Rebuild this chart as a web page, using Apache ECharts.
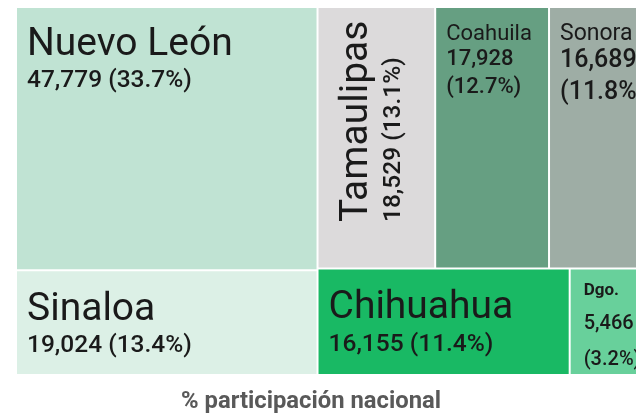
<!DOCTYPE html>
<html>
<head>
<meta charset="utf-8">
<script src="https://cdn.jsdelivr.net/npm/echarts@6/dist/echarts.min.js"></script>
<style>
  html, body { margin: 0; padding: 0; background: #fff; }
  #chart { width: 636px; height: 414px; }
</style>
</head>
<body>
<div id="chart"></div>
<script>
// datos
const estados = ["Nuevo León", "Sinaloa", "Tamaulipas", "Coahuila", "Sonora", "Chihuahua", "Dgo."];
const valores = [47779, 19024, 18529, 17928, 16689, 16155, 5466];
const porcentajes = ["33.7%", "13.4%", "13.1%", "12.7%", "11.8%", "11.4%", "3.2%"];

// colores de cada estado
const colores = ["#c0e3d3", "#dcf0e6", "#dcdadb", "#669f82", "#9eada5", "#19b964", "#68d09b"];

const fmt = v => v.toLocaleString("en-US");

// estilo de etiqueta segun el tamaño de la celda
const etiquetaGrande = (i, pos) => ({
  position: pos,
  formatter: `{n|${estados[i]}}\n{v|${fmt(valores[i])} (${porcentajes[i]})}`
});
const etiquetaChica = (i, pos, estilo) => ({
  position: pos,
  formatter: `{${estilo}n|${estados[i]}}\n{${estilo}v|${fmt(valores[i])}}\n{${estilo}v|(${porcentajes[i]})}`
});

const etiquetas = [
  etiquetaGrande(0, [10, 16]),
  etiquetaGrande(1, [10, 18]),
  Object.assign(etiquetaGrande(2, [18, 214]), { rotate: 90 }),
  etiquetaChica(3, [10, 15], "c"),
  etiquetaChica(4, [10, 15], "s"),
  etiquetaGrande(5, [10, 18]),
  etiquetaChica(6, [13, 6], "d")
];

const chart = echarts.init(document.getElementById("chart"));

const option = {
  title: {
    text: "% participación nacional",
    left: 176,
    top: 385,
    textStyle: { fontFamily: "Roboto", fontSize: 23.8, fontWeight: "bold", color: "#595959" }
  },
  series: [
    {
      type: "treemap",
      left: 17,
      top: 8,
      width: 637,
      height: 366,
      roam: false,
      nodeClick: false,
      breadcrumb: { show: false },
      animation: false,
      levels: [
        { itemStyle: { gapWidth: 2, borderWidth: 0, borderColor: "#fff" } },
        { itemStyle: { borderWidth: 0 } }
      ],
      label: {
        show: true,
        color: "#1a1a1a",
        fontFamily: "Roboto",
        overflow: "none",
        padding: 0,
        align: "left",
        verticalAlign: "top",
        rich: {
          n: { fontFamily: "Roboto", fontSize: 39, lineHeight: 42, color: "#1a1a1a" },
          v: { fontFamily: "Roboto", fontSize: 24.5, fontWeight: 500, lineHeight: 30, color: "#1a1a1a" },
          cn: { fontFamily: "Roboto", fontSize: 22, lineHeight: 22, color: "#1a1a1a" },
          cv: { fontFamily: "Roboto", fontSize: 22, fontWeight: 500, lineHeight: 28, color: "#1a1a1a" },
          sn: { fontFamily: "Roboto", fontSize: 23, lineHeight: 22, color: "#1a1a1a" },
          sv: { fontFamily: "Roboto", fontSize: 25, fontWeight: 500, lineHeight: 32, color: "#1a1a1a" },
          dn: { fontFamily: "Roboto", fontSize: 17, fontWeight: "bold", lineHeight: 30, color: "#1a1a1a" },
          dv: { fontFamily: "Roboto", fontSize: 20, fontWeight: 500, lineHeight: 36, color: "#1a1a1a" }
        }
      },
      data: estados.map((nombre, i) => ({
        name: nombre,
        value: valores[i],
        itemStyle: { color: colores[i] },
        label: etiquetas[i]
      }))
    }
  ]
};

chart.setOption(option);
</script>
</body>
</html>
